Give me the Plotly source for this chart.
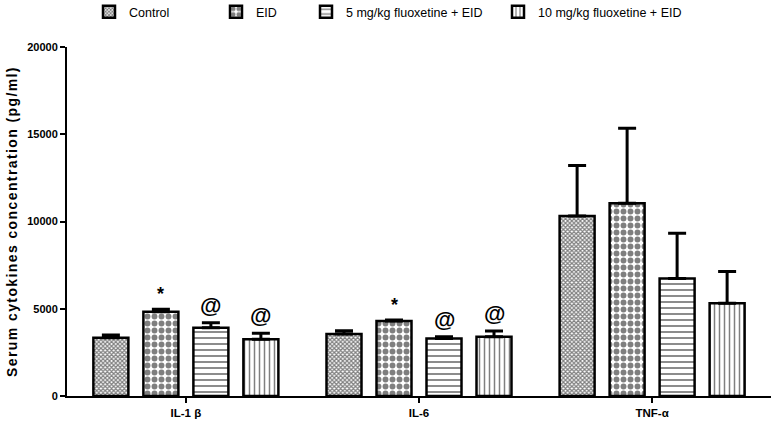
import plotly.graph_objects as go

categories = ["IL-1 β", "IL-6", "TNF-α"]
groups = ["Control", "EID", "5 mg/kg fluoxetine + EID", "10 mg/kg fluoxetine + EID"]
control = [3340, 3550, 10310]
control_err = [150, 190, 2900]
eid = [4830, 4300, 11040]
eid_err = [140, 60, 4300]
flx5 = [3910, 3300, 6740]
flx5_err = [290, 95, 2580]
flx10 = [3250, 3400, 5310]
flx10_err = [340, 320, 1820]
marks = [["", "*", "@", "@"], ["", "*", "@", "@"], ["", "", "", ""]]
y_ticks = [0, 5000, 10000, 15000, 20000]

values = [control, eid, flx5, flx10]
errors = [control_err, eid_err, flx5_err, flx10_err]
patterns = [
    dict(shape="x", size=3, solidity=0.65, fgcolor="black", bgcolor="white"),
    dict(shape=".", size=7, solidity=0.55, fgcolor="black", bgcolor="white"),
    dict(shape="-", size=6, solidity=0.3, fgcolor="black", bgcolor="white"),
    dict(shape="|", size=5, solidity=0.3, fgcolor="black", bgcolor="white"),
]
legend_names = ["legend", "legend2", "legend3", "legend4"]
legend_x = [89, 216, 306, 498]
FONT = "Liberation Sans Narrow, Arial Narrow, Liberation Sans"

BARGAP = 0.142
fig = go.Figure()
for i, g in enumerate(groups):
    fig.add_trace(go.Bar(
        x=list(range(len(categories))), y=values[i], name=g,
        marker=dict(color="white", line=dict(color="black", width=2.5), pattern=patterns[i]),
        error_y=dict(type="data", array=errors[i], arrayminus=[0] * 3, symmetric=False,
                     color="black", thickness=3, width=9),
        legend=legend_names[i], showlegend=True,
    ))

slot = (1 - BARGAP) / 4
annotations = []
for c in range(len(categories)):
    for i in range(4):
        m = marks[c][i]
        if m:
            annotations.append(dict(
                x=c + (i - 1.5) * slot, y=values[i][c] + errors[i][c], xref="x", yref="y",
                text="<b>%s</b>" % m, showarrow=False, yanchor="bottom", yshift=3,
                font=dict(size=22 if m == "@" else 18, color="black", family="Liberation Sans"),
            ))

layout_legends = {}
for j, ln in enumerate(legend_names):
    layout_legends[ln] = dict(
        x=legend_x[j] / 771, y=1 - 12 / 424, xref="container", yref="container",
        xanchor="left", yanchor="middle", orientation="h", bgcolor="rgba(0,0,0,0)",
        font=dict(size=12.5, color="black", family=FONT),
    )

fig.update_layout(
    width=771, height=424, showlegend=True,
    margin=dict(l=67, r=0, t=47, b=28, autoexpand=False),
    paper_bgcolor="white", plot_bgcolor="white",
    barmode="group", bargap=BARGAP, bargroupgap=0.3,
    annotations=annotations,
    **layout_legends,
    xaxis=dict(
        range=[-0.51, 2.51], tickmode="array", tickvals=list(range(len(categories))),
        ticktext=["<b>%s</b>" % c for c in categories], showline=True, linecolor="black", linewidth=2,
        ticks="outside", ticklen=5, tickwidth=2, tickcolor="black", showgrid=False, zeroline=False,
        tickfont=dict(size=11.5, color="black", family=FONT),
    ),
    yaxis=dict(
        range=[0, 20000], tickmode="array", tickvals=y_ticks,
        ticktext=["<b>%d</b>" % t for t in y_ticks],
        showline=True, linecolor="black", linewidth=2, ticks="outside", ticklen=5,
        tickwidth=2, tickcolor="black", showgrid=False, zeroline=False,
        tickfont=dict(size=11, color="black", family=FONT),
        title=dict(text="<b>Serum cytokines concentration (pg/ml)</b>", standoff=6,
                   font=dict(size=14, color="black", family="Liberation Sans")),
    ),
)

post = """
document.body.style.margin = '0';
var t = document.querySelector('.ytitle');
if (t) { t.style.letterSpacing = '1.4px'; }
"""
fig.write_html("out.html", post_script=post, config={"displayModeBar": False})
